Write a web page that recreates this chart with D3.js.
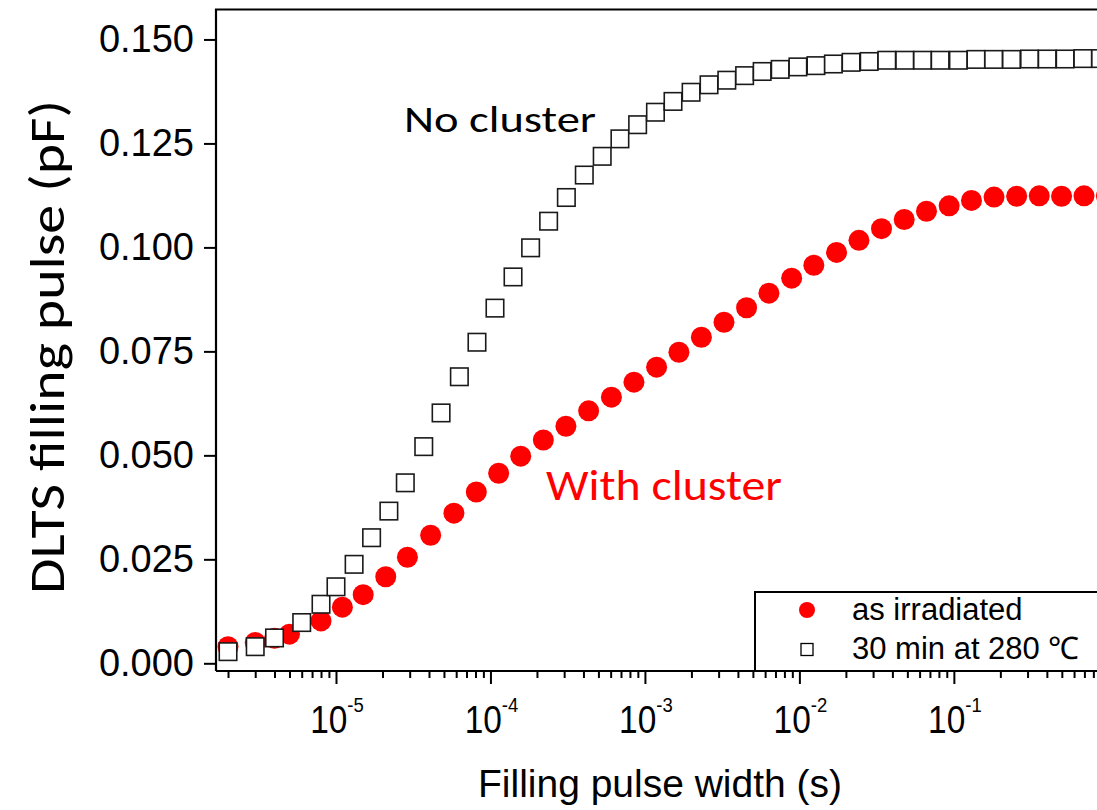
<!DOCTYPE html>
<html>
<head>
<meta charset="utf-8">
<script src="https://cdn.jsdelivr.net/npm/d3@7"></script>
<style>
  html, body { margin: 0; padding: 0; background: #fff; overflow: hidden; }
  svg { display: block; }
</style>
</head>
<body>
<svg id="chart" width="1097" height="810"></svg>
<script>
// ---------------- data ----------------
const irradiatedT = [2.0e-6, 3.0e-6, 4.0e-6, 5.0e-6, 8.0e-6, 1.1e-5, 1.5e-5, 2.1e-5, 2.9e-5, 4.1e-5,
  5.8e-5, 8.1e-5, 1.13e-4, 1.57e-4, 2.2e-4, 3.08e-4, 4.32e-4, 6.07e-4, 8.49e-4, 1.19e-3,
  1.66e-3, 2.32e-3, 3.25e-3, 4.55e-3, 6.35e-3, 8.91e-3, 1.24e-2, 1.74e-2, 2.43e-2, 3.40e-2,
  4.77e-2, 6.65e-2, 9.32e-2, 0.130, 0.182, 0.255, 0.357, 0.498, 0.696, 0.973];
const irradiatedV = [0.0040, 0.0050, 0.0060, 0.0070, 0.0102, 0.0135, 0.0165, 0.0208, 0.0255, 0.0308,
  0.0361, 0.0412, 0.0457, 0.0498, 0.0537, 0.0570, 0.0607, 0.0640, 0.0676, 0.0712,
  0.0748, 0.0784, 0.0820, 0.0855, 0.0890, 0.0926, 0.0957, 0.0988, 0.1017, 0.1045,
  0.1067, 0.1087, 0.1100, 0.1113, 0.1121, 0.1123, 0.1124, 0.1123, 0.1124, 0.1124];

const annealedT = [2.0e-6, 3.0e-6, 4.0e-6, 6.0e-6, 8.0e-6, 1.0e-5, 1.31e-5, 1.70e-5, 2.20e-5, 2.81e-5,
  3.70e-5, 4.79e-5, 6.29e-5, 8.18e-5, 1.07e-4, 1.40e-4, 1.82e-4, 2.38e-4, 3.10e-4, 4.05e-4,
  5.29e-4, 6.89e-4, 8.97e-4, 1.17e-3, 1.52e-3, 1.99e-3, 2.60e-3, 3.39e-3, 4.42e-3, 5.74e-3,
  7.51e-3, 9.78e-3, 1.28e-2, 1.66e-2, 2.16e-2, 2.83e-2, 3.68e-2, 4.81e-2, 6.27e-2, 8.15e-2,
  0.107, 0.139, 0.181, 0.236, 0.309, 0.402, 0.525, 0.684, 0.891];
const annealedV = [0.0028, 0.0040, 0.0061, 0.0098, 0.0142, 0.0184, 0.0238, 0.0302, 0.0366, 0.0434,
  0.0521, 0.0602, 0.0689, 0.0772, 0.0854, 0.0929, 0.0999, 0.1063, 0.1120, 0.1174,
  0.1219, 0.1261, 0.1295, 0.1325, 0.1351, 0.1373, 0.1391, 0.1402, 0.1413, 0.1423,
  0.1428, 0.1434, 0.1437, 0.1441, 0.1445, 0.1447, 0.1450, 0.1450, 0.1450, 0.1450,
  0.1450, 0.1452, 0.1452, 0.1452, 0.1453, 0.1453, 0.1453, 0.1454, 0.1454];

const yTickValues = [0, 0.025, 0.05, 0.075, 0.1, 0.125, 0.15];
const xMajorTicks = [1e-5, 1e-4, 1e-3, 1e-2, 1e-1];
const xMajorExp = ["-5", "-4", "-3", "-2", "-1"];
const xDomain = [1.672e-6, 1.19];
const yDomain = [-0.00185, 0.1572];
const legendLabels = ["as irradiated", "30 min at 280 \u2103"];
const xTitle = "Filling pulse width (s)";
const yTitle = "DLTS filling pulse (pF)";
const noteNo = "No cluster";
const noteWith = "With cluster";

// ---------------- layout ----------------
const L = 216, R = 1120, T = 9.5, B = 671;
const svg = d3.select("#chart");
const x = d3.scaleLog().domain(xDomain).range([L, R]);
const y = d3.scaleLinear().domain(yDomain).range([B, T]);

// markers: circles first, squares on top
svg.append("g").selectAll("circle")
  .data(irradiatedT.map((t, i) => [t, irradiatedV[i]]))
  .join("circle")
  .attr("cx", d => x(d[0])).attr("cy", d => y(d[1]))
  .attr("r", 10.5).attr("fill", "#ff0000");

const sq = 17.5;
svg.append("g").selectAll("rect")
  .data(annealedT.map((t, i) => [t, annealedV[i]]))
  .join("rect")
  .attr("x", d => x(d[0]) - sq / 2).attr("y", d => y(d[1]) - sq / 2)
  .attr("width", sq).attr("height", sq)
  .attr("fill", "#fff").attr("stroke", "#1a1a1a").attr("stroke-width", 1.6);

// frame
svg.append("path")
  .attr("d", `M${L},${B} L${L},${T} L${R},${T}`)
  .attr("fill", "none").attr("stroke", "#000").attr("stroke-width", 2.2);

// y axis
const yAxis = d3.axisLeft(y).tickValues(yTickValues).tickSize(12).tickPadding(10)
  .tickFormat(d3.format(".3f"));
const gy = svg.append("g").attr("transform", `translate(${L},0)`).call(yAxis);
gy.select(".domain").remove();
gy.selectAll(".tick line").attr("stroke", "#000").attr("stroke-width", 2);
gy.selectAll(".tick text")
  .attr("font-family", "'Liberation Sans', Arial, sans-serif")
  .attr("font-size", 38).attr("fill", "#000").attr("dy", "0.33em");

// x axis: minor ticks
const minor = [];
for (let e = -6; e <= 0; e++) for (let m = 2; m <= 9; m++) {
  const v = m * Math.pow(10, e);
  if (v > xDomain[0] && v < xDomain[1]) minor.push(v);
}
const gxMinor = svg.append("g").attr("transform", `translate(0,${B})`)
  .call(d3.axisBottom(x).tickValues(minor).tickSize(7).tickFormat(""));
gxMinor.select(".domain").remove();
gxMinor.selectAll(".tick line").attr("stroke", "#000").attr("stroke-width", 2);

const gx = svg.append("g").attr("transform", `translate(0,${B})`)
  .call(d3.axisBottom(x).tickValues(xMajorTicks).tickSize(13).tickFormat(""));
gx.select(".domain").attr("d", `M${L},0H${R}`).attr("stroke", "#000").attr("stroke-width", 2.2);
gx.selectAll(".tick line").attr("stroke", "#000").attr("stroke-width", 2);

// x tick labels 10^n
const xl = svg.append("g");
xMajorTicks.forEach((v, i) => {
  const t = xl.append("text")
    .attr("transform", `translate(${x(v) + 1},733) scale(0.88,1)`)
    .attr("text-anchor", "middle")
    .attr("font-family", "'Liberation Sans', Arial, sans-serif")
    .attr("font-size", 38).attr("fill", "#000");
  t.append("tspan").text("10");
  t.append("tspan").attr("dy", -21).attr("font-size", 21).text(xMajorExp[i]);
});

// axis titles
svg.append("text")
  .attr("x", 660).attr("y", 797)
  .attr("text-anchor", "middle")
  .attr("font-family", "'Liberation Sans', Arial, sans-serif")
  .attr("font-size", 38).attr("fill", "#000")
  .attr("textLength", 364).attr("lengthAdjust", "spacingAndGlyphs")
  .text(xTitle);

svg.append("text")
  .attr("transform", "translate(64,347) rotate(-90)")
  .attr("text-anchor", "middle")
  .attr("font-family", "Carlito, Lato, 'Open Sans', sans-serif")
  .attr("font-size", 50).attr("fill", "#000")
  .attr("textLength", 494).attr("lengthAdjust", "spacingAndGlyphs")
  .text(yTitle);

// annotations
svg.append("text")
  .attr("x", 404).attr("y", 132)
  .attr("font-family", "Carlito, Lato, 'Open Sans', sans-serif")
  .attr("font-size", 37).attr("fill", "#000")
  .attr("textLength", 192).attr("lengthAdjust", "spacingAndGlyphs")
  .text(noteNo);
svg.append("text")
  .attr("x", 546).attr("y", 500)
  .attr("font-family", "Carlito, Lato, 'Open Sans', sans-serif")
  .attr("font-size", 43).attr("fill", "#ff0000")
  .attr("textLength", 236).attr("lengthAdjust", "spacingAndGlyphs")
  .text(noteWith);

// legend
const lg = svg.append("g");
lg.append("rect").attr("x", 755).attr("y", 592).attr("width", 400).attr("height", B - 592)
  .attr("fill", "#fff").attr("stroke", "#000").attr("stroke-width", 2);
lg.append("circle").attr("cx", 807).attr("cy", 610).attr("r", 8).attr("fill", "#ff0000");
lg.append("rect").attr("x", 807 - 6).attr("y", 649.5 - 6).attr("width", 12).attr("height", 12)
  .attr("fill", "#fff").attr("stroke", "#000").attr("stroke-width", 1.3);
lg.selectAll("text.lbl").data(legendLabels).join("text").attr("class", "lbl")
  .attr("x", 852).attr("y", (d, i) => 619.5 + i * 39)
  .attr("font-family", "'Liberation Sans', Arial, sans-serif")
  .attr("font-size", 31).attr("fill", "#000")
  .text(d => d);
</script>
</body>
</html>
